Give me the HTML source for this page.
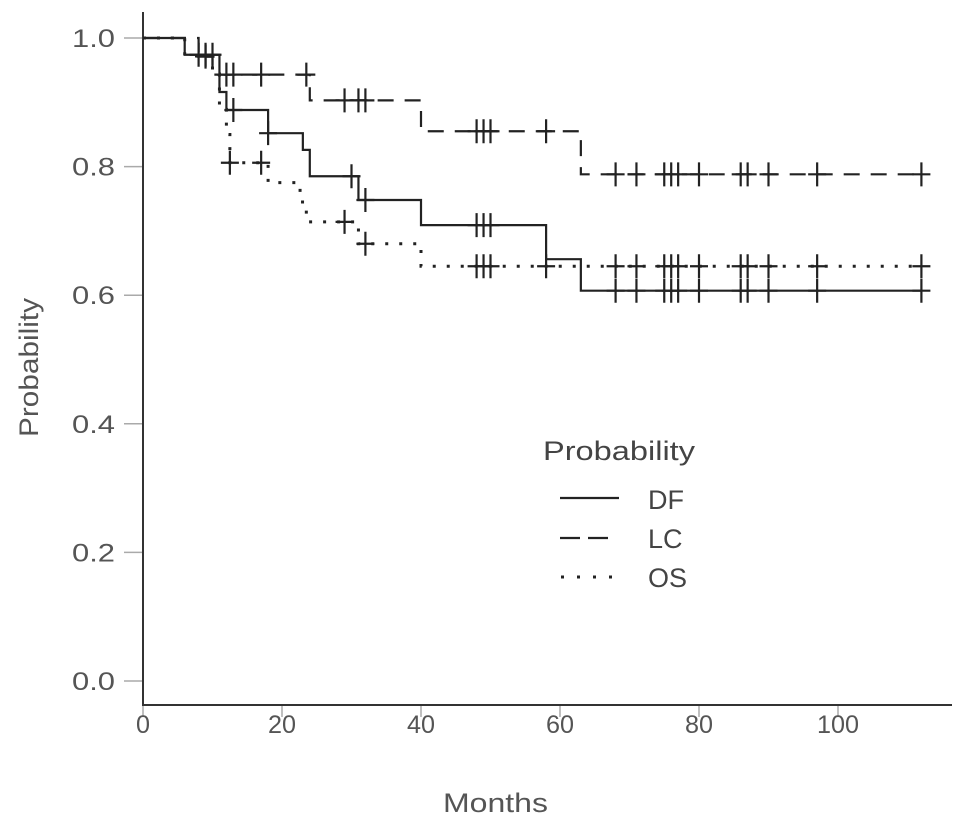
<!DOCTYPE html>
<html><head><meta charset="utf-8"><style>
html,body{margin:0;padding:0;background:#fff}
svg{display:block;font-family:"Liberation Sans",Arial,sans-serif}
</style></head><body>
<svg id="chart" width="969" height="831" viewBox="0 0 969 831" xmlns="http://www.w3.org/2000/svg">
<g id="axes"></g>
<g id="series"></g>
<text x="443" y="812" font-size="27" fill="#555" textLength="105" lengthAdjust="spacingAndGlyphs">Months</text>
<text transform="translate(38,437) rotate(-90)" font-size="27" fill="#555" textLength="139" lengthAdjust="spacingAndGlyphs">Probability</text>
<g>
<text x="543" y="460" font-size="27" fill="#444" textLength="152" lengthAdjust="spacingAndGlyphs">Probability</text>
<line x1="560" y1="498" x2="619" y2="498" stroke="#222" stroke-width="2.2"/>
<text x="648" y="509" font-size="27" fill="#444">DF</text>
<line x1="560" y1="538" x2="612" y2="538" stroke="#222" stroke-width="2.2" stroke-dasharray="20,8"/>
<text x="648" y="548" font-size="27" fill="#444">LC</text>
<line x1="561" y1="577" x2="615" y2="577" stroke="#222" stroke-width="3" stroke-dasharray="3,13"/>
<text x="648" y="587" font-size="27" fill="#444">OS</text>
</g>
</svg>
<script>
const xTicks=[0,20,40,60,80,100];
const yTicks=[0,0.2,0.4,0.6,0.8,1.0];
const dfTimes=[0,6,11,12,18,23,24,31,40,58,63,112];
const dfSurv=[1,0.974,0.916,0.888,0.852,0.826,0.785,0.748,0.709,0.656,0.607,0.607];
const dfCens=[8,9,10,13,18,30,32,48,49,50,68,71,75,76,77,80,86,87,90,97,112];
const lcTimes=[0,8,10,24,40,63,112];
const lcSurv=[1,0.971,0.943,0.903,0.855,0.788,0.788];
const lcCens=[9,12,13,17,23.5,29,31,32,48,49,50,58,68,71,75,76,77,80,86,87,90,97,112];
const osTimes=[0,6,10,11,12,12.5,18,22.6,23.5,31,40,112];
const osSurv=[1,0.972,0.944,0.889,0.85,0.806,0.775,0.745,0.714,0.68,0.645,0.645];
const osCens=[12.5,17,29,32,48,49,50,58,68,71,75,76,77,80,86,87,90,97,112];

const NS="http://www.w3.org/2000/svg";
const X=m=>143+m*6.95;
const Y=p=>681-p*643;
function mk(tag,attrs,parent){const e=document.createElementNS(NS,tag);for(const k in attrs)e.setAttribute(k,attrs[k]);parent.appendChild(e);return e;}
const axes=document.getElementById('axes');
let a=mk('line',{x1:143,y1:12,x2:143,y2:706,stroke:'#333','stroke-width':2},axes);


a=mk('line',{x1:142,y1:705,x2:952,y2:705,stroke:'#333','stroke-width':2},axes);


xTicks.forEach(t=>{
  const l=mk('line',{x1:X(t),y1:706,x2:X(t),y2:717,stroke:'#aaa','stroke-width':1.5},axes);
  
  
  const s=String(t);
  const tx=mk('text',{x:X(t),y:733,'font-size':25,fill:'#555','text-anchor':'middle',textLength:s.length*14,lengthAdjust:'spacingAndGlyphs'},axes);
  tx.textContent=s;
  
  
});
yTicks.forEach(t=>{
  const l=mk('line',{x1:124,y1:Y(t),x2:142,y2:Y(t),stroke:'#aaa','stroke-width':1.5},axes);
  
  
  const tx=mk('text',{x:72,y:Y(t)+9,'font-size':25,fill:'#555',textLength:43,lengthAdjust:'spacingAndGlyphs'},axes);
  tx.textContent=t.toFixed(1);
  
  
});
const series=document.getElementById('series');
function survAt(times,surv,t){let s=surv[0];for(let i=0;i<times.length;i++){if(times[i]<=t)s=surv[i];}return s;}
function draw(name,times,surv,cens,dash,w){
  let d='M'+X(times[0])+','+Y(surv[0]);
  for(let i=1;i<times.length;i++){d+=' H'+X(times[i])+' V'+Y(surv[i]);}
  const p=mk('path',{d:d,fill:'none',stroke:'#222','stroke-width':w,'stroke-dasharray':dash},series);
  
  
  cens.forEach(t=>{
    const s=survAt(times,surv,t);
    const g=mk('path',{d:'M'+X(t)+','+(Y(s)-12)+' V'+(Y(s)+12)+' M'+(X(t)-9)+','+Y(s)+' H'+(X(t)+9),stroke:'#222','stroke-width':2.2,fill:'none'},series);
    
    
  });
}
draw('df',dfTimes,dfSurv,dfCens,'none',2.2);
draw('lc',lcTimes,lcSurv,lcCens,'16,11',2.2);
draw('os',osTimes,osSurv,osCens,'3,11',3);
</script>
</body></html>
